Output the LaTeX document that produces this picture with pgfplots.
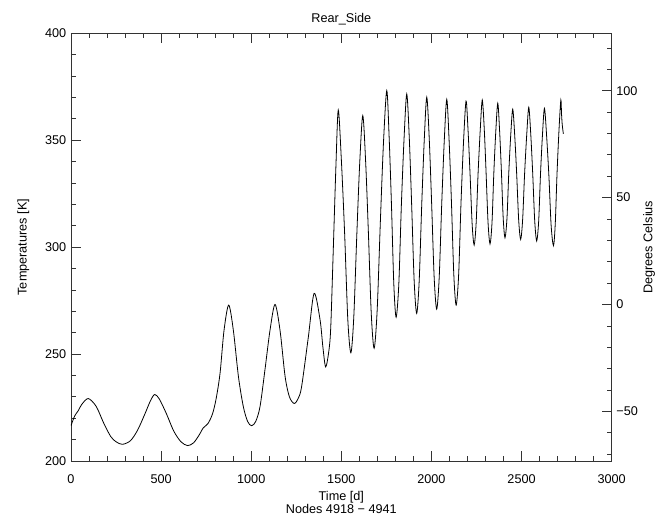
\documentclass[border=0pt]{standalone}
\usepackage{fontspec}
\setmainfont{Liberation Sans}
\usepackage{pgfplots}
\pgfplotsset{compat=1.18}

\pgfplotstableread{
t T
0 216.5
20 221
40 223.5
60 226.5
96 229.2
140 225.5
180 218
220 211.5
250 209
285 207.8
330 209.5
370 214.5
410 222
440 228
464 231.1
490 229
530 222
570 214
610 209
647 207.2
680 208.5
710 212
734 215.5
760 217.5
785 222
805 229
827 241
849 261
875 272.9
901 261
929 239.5
956 225.5
980 218.5
1002 216.5
1025 218.5
1049 225.5
1076 242.5
1104 261
1132 273.2
1160 261
1188 239.5
1212 230
1239 226.9
1262 229.5
1280 235
1317 258
1349 278.4
1382 266
1398 253
1413 244
1430 251
1441 262
1455 298
1470 338
1483 364.1
1500 341
1518 307
1536 266
1553 250.6
1569 267.2
1586 306
1602 339.3
1619 361.5
1635 339.7
1650 307.1
1666 269.0
1682 252.7
1699 270.8
1717 313
1734 349.1
1752 373.2
1765 352
1778 320.2
1791 283.1
1804 267.2
1819 282.9
1833 319.4
1848 350.7
1863 371.6
1877 351.1
1890 320.3
1904 284.4
1918 269
1932 284.2
1946 319.6
1960 349.9
1974 370.1
1988 350.3
2001 320.6
2015 286
2029 271
2043 285.7
2057 320.1
2071 349.5
2085 369.1
2098 349.9
2111 321
2124 287.3
2137 272.9
2151 287.2
2164 320.6
2178 349.2
2192 368.3
2203 354.8
2214 334.7
2226 310.5
2237 301
2248 311.2
2259 334.9
2271 355.2
2282 368.8
2293 355.3
2303 335.2
2314 311.6
2325 301.5
2336 311.4
2346 334.4
2357 354.1
2368 367.3
2378 354.7
2388 335.9
2398 313.8
2408 304.4
2419 313.4
2429 334.5
2440 352.5
2451 364.5
2462 352.3
2473 334.1
2484 312.7
2495 303.6
2506 312.9
2517 334.5
2529 353.0
2540 365.4
2551 352.9
2562 334.2
2573 312.3
2584 302.9
2595 312.2
2605 333.9
2616 352.5
2627 364.9
2639 352.1
2652 332.8
2664 310.3
2677 300.7
2687 310.9
2697 334.8
2708 355.2
2718 368.8
2722 362
2726 357
2732 353
}\reartable

\begin{document}
\begin{tikzpicture}[font=\fontsize{9.5}{10}\selectfont]
\useasboundingbox (-53.25pt,-42pt) rectangle (441pt,345.75pt);
\pgfplotsset{
  every axis/.append style={
    scale only axis,
    width=405.5pt, height=320.8pt,
    axis line style={draw=black!80, line width=0.6pt},
    every tick/.style={draw=black!80, line width=0.6pt},
    major tick length=7.5pt, minor tick length=3.7pt,
    tick align=inside,
    /pgf/number format/assume math mode=true,
    /pgf/number format/1000 sep={},
    tick label style={font=\fontsize{9.5}{10}\selectfont},
    label style={font=\fontsize{9.5}{10}\selectfont},
  }
}
\begin{axis}[
  xmin=0, xmax=3000, ymin=200, ymax=400,
  xtick={0,500,...,3000}, minor x tick num=4,
  ytick={200,250,...,400}, minor y tick num=4,
  xtick pos=both, ytick pos=left,
  xticklabel style={yshift=-6.5pt},
  title={Rear\_Side},
  title style={yshift=-3pt},
  xlabel={Time [d]\\Nodes 4918 − 4941},
  xlabel style={align=center, yshift=1pt},
  ylabel={Temperatures [K]},
  ylabel style={yshift=5pt},
]
\addplot[black, line width=0.6pt, smooth] table[x=t, y=T] {\reartable};
\end{axis}
\begin{axis}[
  xmin=0, xmax=3000, ymin=-73.15, ymax=126.85,
  hide x axis,
  axis y line*=right,
  ytick={-50,0,50,100}, yticklabels={−50,0,50,100},
  minor ytick={-70,-60,-40,-30,-20,-10,10,20,30,40,60,70,80,90,110,120},
  ytick pos=right,
  ylabel={Degrees Celsius},
  every axis y label/.style={at={(axis description cs:1,0.5)}, anchor=center, rotate=90, yshift=-28pt},
]
\end{axis}
\end{tikzpicture}
\end{document}
